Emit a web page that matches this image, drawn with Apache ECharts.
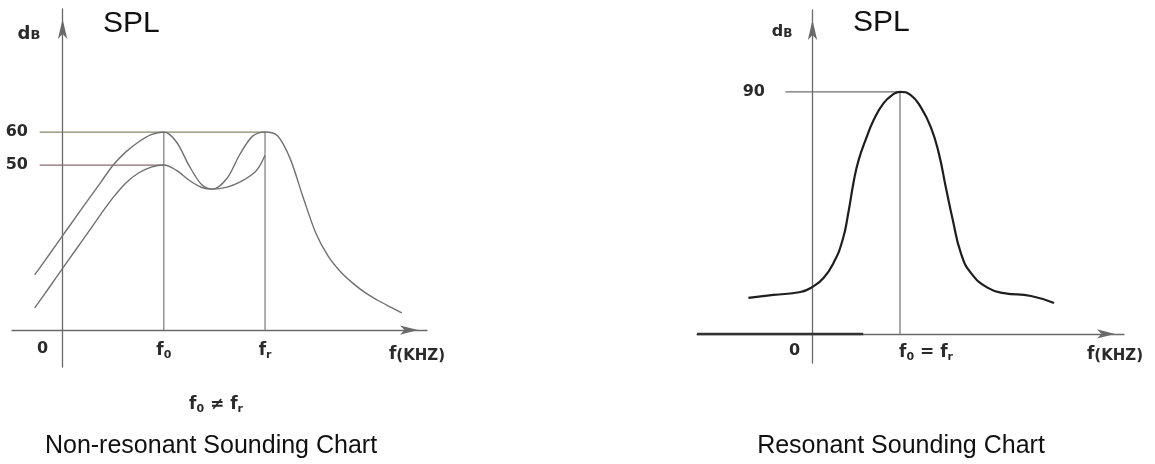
<!DOCTYPE html>
<html>
<head>
<meta charset="utf-8">
<script src="https://cdn.jsdelivr.net/npm/echarts@6/dist/echarts.min.js"></script>
<style>html,body{margin:0;padding:0;background:#fff}#c{width:1155px;height:464px}</style>
</head>
<body>
<div id="c"></div>
<script>
// ---- Left panel: non-resonant ----
const leftUpperX = [-0.276, -0.125, 0, 0.125, 0.25, 0.375, 0.5, 0.625, 0.75, 0.875, 1, 1.125, 1.25, 1.375, 1.48, 1.625, 1.75, 1.875, 2, 2.125, 2.25, 2.375, 2.5, 2.625, 2.75, 2.875, 3, 3.125, 3.25, 3.35];
const leftUpperY = [16.7, 23.2, 28.6, 34.0, 39.4, 44.7, 50.0, 54.0, 57.0, 59.2, 60, 57.0, 49.8, 44.0, 42.7, 46.0, 53.2, 58.7, 60, 58.8, 51.8, 40.3, 29.5, 22.3, 17.5, 14.0, 11.1, 8.8, 6.8, 5.2];
const leftLowerX = [-0.276, -0.125, 0, 0.125, 0.25, 0.375, 0.5, 0.625, 0.75, 0.875, 1, 1.125, 1.25, 1.375, 1.48, 1.625, 1.75, 1.875, 1.94, 2];
const leftLowerY = [6.7, 13.2, 18.7, 24.1, 29.5, 35.0, 40.2, 44.6, 47.6, 49.4, 50, 48.4, 45.4, 43.2, 42.7, 43.3, 44.8, 47.2, 49.4, 53];
const leftTickValues = [0, 1, 2];
const leftTickLabels = ['{z|0}', '{f|f}{s|0}', '{f|f}{s|r}'];
const leftLevelValues = [50, 60];
const leftF0 = 1, leftFr = 2;
const leftRefStartX = -0.227;

// ---- Right panel: resonant ----
const rightX = [-0.733, -0.447, -0.137, 0, 0.126, 0.24, 0.344, 0.412, 0.47, 0.527, 0.607, 0.699, 0.813, 0.928, 1, 1.123, 1.237, 1.352, 1.443, 1.523, 1.604, 1.695, 1.81, 2.005, 2.188, 2.497, 2.76];
const rightY = [13.4, 14.5, 15.6, 17.5, 20.8, 26.4, 34.9, 45.5, 56.5, 64.6, 72.1, 79.5, 85.8, 89.2, 90, 88.8, 84.3, 76.9, 67.2, 54.6, 42.3, 30.1, 22.7, 17.1, 15.2, 14.1, 11.5];
const rightTickValues = [0, 1];
const rightTickLabels = ['{z|0}', '{w|f}{s|0}{f| = }{f|f}{s|r}'];
const rightLevelValues = [90];
const rightF0 = 1;
const rightRefStartX = -0.31;
const rightThickAxisX = [-1.32, 0.58];

const FONT = 'DejaVu Sans';
const TXT = '#2a2a2a';
const richLabels = {
  f: {fontSize: 17, fontFamily: FONT, fontWeight: 'bold', color: TXT},
  w: {fontSize: 17, fontFamily: FONT, fontWeight: 'bold', color: TXT},
  s: {fontSize: 11, fontFamily: FONT, fontWeight: 'bold', color: TXT, padding: [9, 0, 0, 0]},
  z: {fontSize: 16, fontFamily: FONT, fontWeight: 'bold', color: TXT, padding: [0, 40, 0, 0]}
};
const richRight = Object.assign({}, richLabels, {
  z: {fontSize: 16, fontFamily: FONT, fontWeight: 'bold', color: TXT, padding: [0, 36, 0, 0]},
  w: {fontSize: 17, fontFamily: FONT, fontWeight: 'bold', color: TXT, padding: [0, 0, 0, 52]}
});

function zip(xs, ys) { return xs.map((x, i) => [x, ys[i]]); }

const axisLineStyle = {color: '#6a6a6a', width: 1.3};
function xAxisCfg(grid, min, max, vals, labels, rich, margin) {
  return {
    type: 'value', gridIndex: grid, min: min, max: max,
    splitLine: {show: false}, axisTick: {show: false},
    axisLine: {show: true, onZero: true, lineStyle: axisLineStyle, symbol: ['none', 'arrow'], symbolSize: [7, 18], symbolOffset: [0, -9]},
    axisLabel: {show: true, customValues: vals, margin: margin, formatter: v => labels[vals.indexOf(v)], rich: rich, hideOverlap: false}
  };
}
function yAxisCfg(grid, min, max, vals, margin) {
  return {
    type: 'value', gridIndex: grid, min: min, max: max,
    splitLine: {show: false}, axisTick: {show: false},
    axisLine: {show: true, onZero: true, lineStyle: axisLineStyle, symbol: ['none', 'arrow'], symbolSize: [7, 20], symbolOffset: [0, -10]},
    axisLabel: {show: true, customValues: vals, margin: margin, formatter: v => String(v), fontSize: 16, fontFamily: FONT, fontWeight: 'bold', color: TXT}
  };
}
function lineSeries(xi, yi, data, color, width, smooth) {
  return {type: 'line', xAxisIndex: xi, yAxisIndex: yi, data: data, symbol: 'none', smooth: smooth || false,
    lineStyle: {color: color, width: width}, silent: true, z: 3};
}

const series = [
  // left reference lines
  lineSeries(0, 0, [[leftRefStartX, leftLevelValues[1]], [leftFr, leftLevelValues[1]]], '#86866c', 1.2),
  lineSeries(0, 0, [[leftRefStartX, leftLevelValues[0]], [leftF0, leftLevelValues[0]]], '#8a6c70', 1.2),
  lineSeries(0, 0, [[leftF0, 0], [leftF0, leftLevelValues[1]]], '#7a7a7a', 1.2),
  lineSeries(0, 0, [[leftFr, 0], [leftFr, leftLevelValues[1]]], '#7a7a7a', 1.2),
  // left curves
  lineSeries(0, 0, zip(leftUpperX, leftUpperY), '#707070', 1.4, 0.3),
  lineSeries(0, 0, zip(leftLowerX, leftLowerY), '#707070', 1.4, 0.3),
  // right reference lines
  lineSeries(1, 1, [[rightRefStartX, rightLevelValues[0]], [rightF0, rightLevelValues[0]]], '#6f6f6f', 1.2),
  lineSeries(1, 1, [[rightF0, 0], [rightF0, rightLevelValues[0]]], '#6f6f6f', 1.2),
  lineSeries(1, 1, [[rightThickAxisX[0], 0], [rightThickAxisX[1], 0]], '#333333', 2.4),
  // right curve
  lineSeries(1, 1, zip(rightX, rightY), '#1e1e1e', 2.2, 0.5)
];

const chart = echarts.init(document.getElementById('c'));
chart.setOption({
  animation: false,
  backgroundColor: '#ffffff',
  grid: [
    {left: 12, right: 728, top: 9, bottom: 97, containLabel: false, outerBoundsMode: 'none'},
    {left: 697, right: 31, top: 10, bottom: 101, containLabel: false, outerBoundsMode: 'none'}
  ],
  xAxis: [
    xAxisCfg(0, -0.5, 3.6, leftTickValues, leftTickLabels, richLabels, -26),
    xAxisCfg(1, -1.32, 3.56, rightTickValues, rightTickLabels, richRight, -20)
  ],
  yAxis: [
    yAxisCfg(0, -11.2, 97.3, leftLevelValues, -16),
    yAxisCfg(1, -10.8, 120.4, rightLevelValues, -68)
  ],
  series: series,
  graphic: [
    {type: 'text', x: 29, y: 34, style: {text: '{d|d}{b|B}', align: 'center', verticalAlign: 'middle',
      rich: {d: {fontSize: 18, fontFamily: FONT, fontWeight: 'bold', fill: TXT}, b: {fontSize: 13, fontFamily: FONT, fontWeight: 'bold', fill: TXT, padding: [3, 0, 0, 0]}}}},
    {type: 'text', x: 782, y: 32, style: {text: '{d|d}{b|B}', align: 'center', verticalAlign: 'middle',
      rich: {d: {fontSize: 16, fontFamily: FONT, fontWeight: 'bold', fill: TXT}, b: {fontSize: 12, fontFamily: FONT, fontWeight: 'bold', fill: TXT, padding: [3, 0, 0, 0]}}}},
    {type: 'text', x: 103, y: 24, style: {text: 'SPL', align: 'left', verticalAlign: 'middle', fontSize: 30, fontFamily: 'Liberation Sans', fill: '#111'}},
    {type: 'text', x: 853, y: 23, style: {text: 'SPL', align: 'left', verticalAlign: 'middle', fontSize: 30, fontFamily: 'Liberation Sans', fill: '#111'}},
    {type: 'text', x: 417, y: 355, style: {text: '{f|f}{k|(KHZ)}', align: 'center', verticalAlign: 'middle',
      rich: {f: {fontSize: 17, fontFamily: FONT, fontWeight: 'bold', fill: TXT}, k: {fontSize: 15, fontFamily: FONT, fontWeight: 'bold', fill: TXT, padding: [2, 0, 0, 0]}}}},
    {type: 'text', x: 1115, y: 355, style: {text: '{f|f}{k|(KHZ)}', align: 'center', verticalAlign: 'middle',
      rich: {f: {fontSize: 17, fontFamily: FONT, fontWeight: 'bold', fill: TXT}, k: {fontSize: 15, fontFamily: FONT, fontWeight: 'bold', fill: TXT, padding: [2, 0, 0, 0]}}}},
    {type: 'text', x: 216, y: 405, style: {text: '{f|f}{s|0}{f| ≠ }{f|f}{s|r}', align: 'center', verticalAlign: 'middle',
      rich: {f: {fontSize: 17, fontFamily: FONT, fontWeight: 'bold', fill: TXT}, s: {fontSize: 11, fontFamily: FONT, fontWeight: 'bold', fill: TXT, padding: [9, 0, 0, 0]}}}},
    {type: 'text', x: 211, y: 446, style: {text: 'Non-resonant Sounding Chart', align: 'center', verticalAlign: 'middle', fontSize: 25, fontFamily: 'Liberation Sans', fill: '#111'}},
    {type: 'text', x: 901, y: 446, style: {text: 'Resonant Sounding Chart', align: 'center', verticalAlign: 'middle', fontSize: 25, fontFamily: 'Liberation Sans', fill: '#111'}}
  ]
});
</script>
</body>
</html>
